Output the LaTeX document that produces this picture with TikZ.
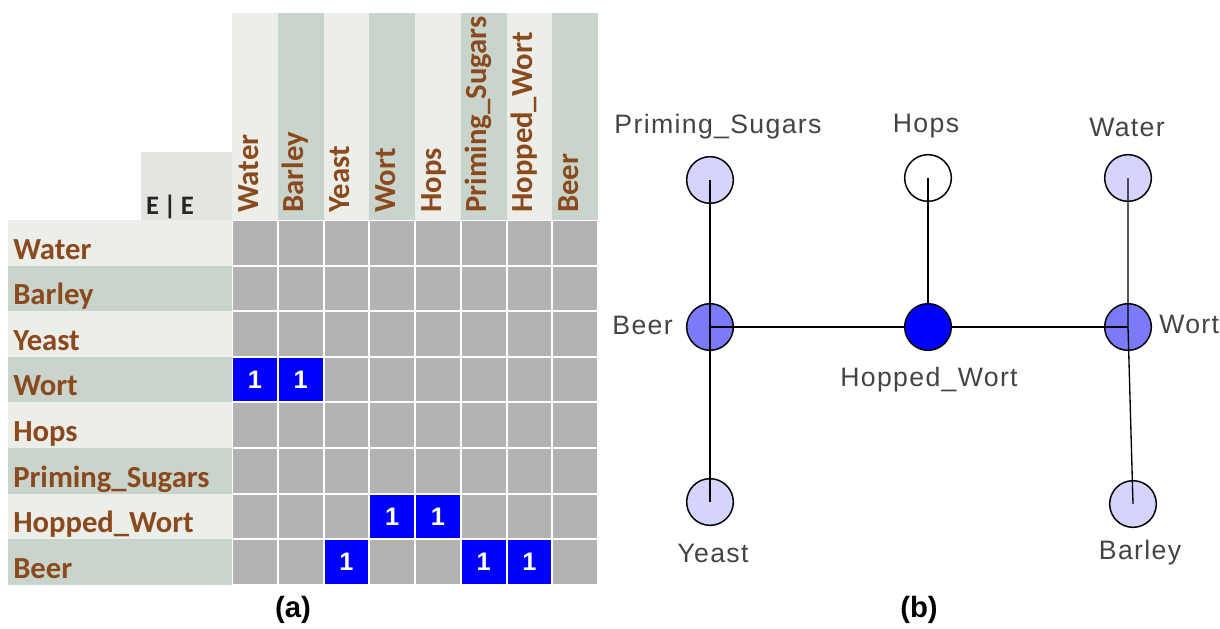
\documentclass[tikz,border=0pt]{standalone}
\usepackage{fontspec}
\setmainfont{Carlito}
\newfontfamily\arialfont{Liberation Sans}
\newfontfamily\nodefont{Liberation Sans}[LetterSpace=5]
\usetikzlibrary{positioning}
\definecolor{bandlight}{HTML}{ECEEE9}
\definecolor{banddark}{HTML}{C9D4CC}
\definecolor{cornerbox}{HTML}{E3E5E0}
\definecolor{cellgray}{HTML}{B3B3B3}
\definecolor{headbrown}{HTML}{8B4A1E}
\definecolor{labelgray}{HTML}{444444}
\definecolor{vlight}{HTML}{D4D4FF}
\definecolor{vmid}{HTML}{7B7BFA}
\definecolor{vfull}{HTML}{0000FF}

\begin{document}
\begin{tikzpicture}[x=0.75pt,y=-0.75pt,
    hdr/.style={font=\bfseries\fontsize{23}{27}\selectfont,text=headbrown,inner sep=0pt},
    one/.style={font=\arialfont\bfseries\fontsize{19}{22}\selectfont,text=white,inner sep=0pt},
    vertex/.style={circle,draw=black,line width=1.1pt,minimum size=35pt,inner sep=0pt},
    vlabel/.style={font=\nodefont\fontsize{20}{24}\selectfont,text=labelgray,inner sep=0pt},
    tag/.style={font=\arialfont\bfseries\fontsize{22}{26}\selectfont,inner sep=0pt}]
\useasboundingbox (0,0) rectangle (1220,628);

% (a) adjacency matrix
\fill[cornerbox] (141,152) rectangle (232,220);
\node[font=\bfseries\fontsize{20}{24}\selectfont,text=black!85,anchor=base] (corner) at (170,214) {E\,|\,E};
\foreach \nm/\band [count=\i] in {Water/bandlight,Barley/banddark,Yeast/bandlight,
    Wort/banddark,Hops/bandlight,Priming\_Sugars/banddark,Hopped\_Wort/bandlight,Beer/banddark}{
  \pgfmathsetmacro\rt{220+45.6*(\i-1)}
  \pgfmathsetmacro\cl{232+45.75*(\i-1)}
  \fill[\band] (8,\rt) rectangle (232,\rt+45.6);
  \node[hdr,anchor=base west] (row\i) at (13,\rt+39) {\nm};
  \fill[\band] (\cl,13) rectangle (\cl+45.75,220);
  \node[hdr,rotate=90,anchor=base west] (col\i) at (\cl+26,213) {\nm};
}
\foreach \i in {1,...,8}
  \foreach \j in {1,...,8}
    \fill[cellgray] (233+45.75*\j-45.75,221+45.6*\i-45.6) rectangle +(43.75,43.6);
\foreach \i/\j in {4/1,4/2,7/4,7/5,8/3,8/6,8/7}{
  \fill[vfull] (233+45.75*\j-45.75,221+45.6*\i-45.6) rectangle +(43.75,43.6);
  \node[one] (one\i\j) at (232+45.75*\j-22.9,220+45.6*\i-22.8) {1};
}
\node[tag] (capa) at (293,610) {(a)};

% (b) dependency graph
\node[vertex,fill=vlight] (priming) at (710,180) {};
\node[vertex,fill=white] (hops) at (928,178) {};
\node[vertex,fill=vlight] (water) at (1128,178) {};
\node[vertex,fill=vmid] (beer) at (710,327) {};
\node[vertex,fill=vfull] (hopped) at (928,327) {};
\node[vertex,fill=vmid] (wort) at (1128,327) {};
\node[vertex,fill=vlight] (yeast) at (710,502) {};
\node[vertex,fill=vlight] (barley) at (1133,504) {};

\draw[line width=1pt] (priming.center) -- (beer.center) -- (yeast.center);
\draw[line width=1pt] (beer.center) -- (hopped);
\draw[line width=1pt] (hopped) -- (wort.center);
\draw[line width=1pt] (hops.center) -- (hopped);
\draw[line width=1pt] (water.center) -- (wort.center) -- (barley.center);

\node[vlabel] (primingtxt) at (718,127) {Priming\_Sugars};
\node[vlabel] (hopstxt) at (926,126) {Hops};
\node[vlabel] (watertxt) at (1127,127) {Water};
\node[vlabel,anchor=east] (beertxt) at (673,325) {Beer};
\node[vlabel,anchor=west] (worttxt) at (1159,324) {Wort};
\node[vlabel] (hoppedtxt) at (929,380) {Hopped\_Wort};
\node[vlabel] (yeasttxt) at (713,553) {Yeast};
\node[vlabel] (barleytxt) at (1140,553) {Barley};
\node[tag] (capb) at (919,610) {(b)};
\end{tikzpicture}
\end{document}
